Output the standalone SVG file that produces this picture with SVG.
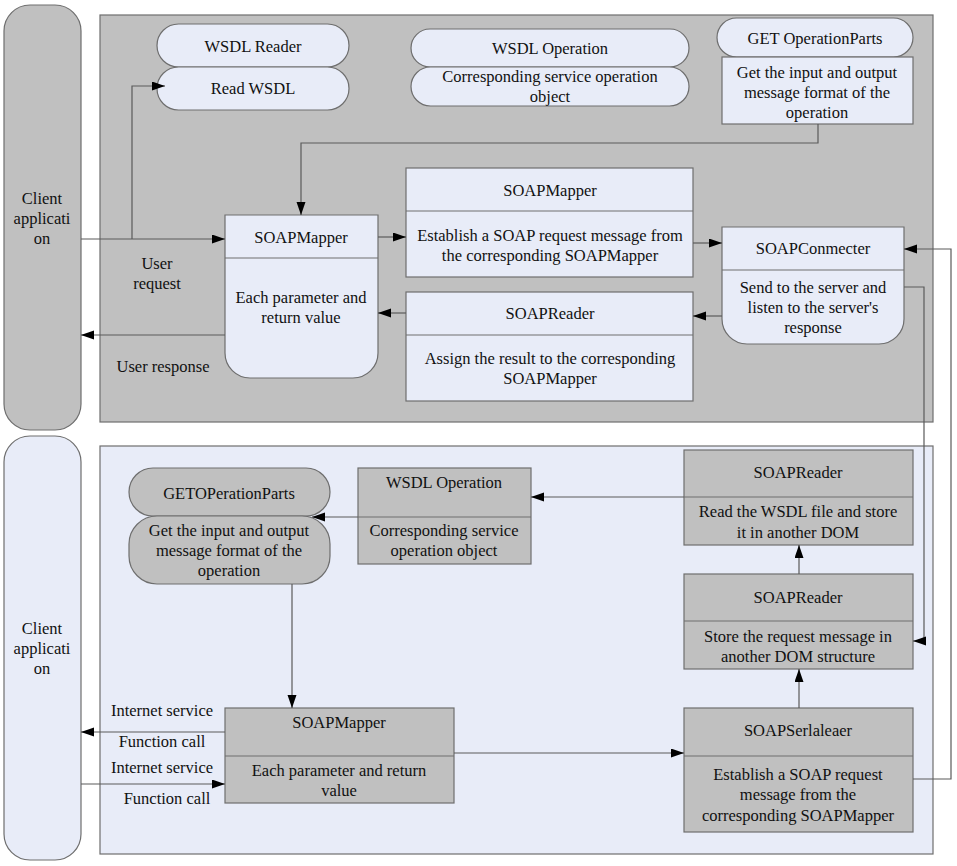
<svg xmlns="http://www.w3.org/2000/svg" width="957" height="866" viewBox="0 0 957 866">
<defs>
<style>
text{font-size:16.5px;fill:#111;text-anchor:middle}
.g{fill:#c0c0c0;stroke:#6e6e6e;stroke-width:1.2}
.l{fill:#e8ecf8;stroke:#6e6e6e;stroke-width:1.2}
.d{fill:none;stroke:#6e6e6e;stroke-width:1.2}
.c{fill:none;stroke:#5a5a5a;stroke-width:1.2;marker-end:url(#ah)}
</style>
<marker id="ah" markerUnits="userSpaceOnUse" markerWidth="14" markerHeight="10" refX="13" refY="4.5" orient="auto">
<path d="M0,0 L13,4.5 L0,9 z" fill="#000"/>
</marker>
</defs>
<rect width="957" height="866" fill="#fff"/>
<g font-family="Liberation Serif, Times New Roman, serif">

<g id="panel-top"><rect class="g" x="100" y="15" width="833" height="407"/></g>
<g id="panel-bottom"><rect class="l" x="100" y="446" width="833" height="408"/></g>

<g id="client-top">
<rect class="g" x="4" y="5" width="77" height="425" rx="26"/>
<text x="42" y="204">Client</text><text x="42" y="224">applicati</text><text x="42" y="244">on</text>
</g>
<g id="client-bottom">
<rect class="l" x="4" y="436" width="77" height="424" rx="26"/>
<text x="42" y="634">Client</text><text x="42" y="654">applicati</text><text x="42" y="674">on</text>
</g>

<g id="wsdl-reader">
<rect class="l" x="157" y="24" width="192" height="43" rx="21.5"/>
<rect class="l" x="157" y="67" width="192" height="43" rx="21.5"/>
<text x="253" y="52">WSDL Reader</text>
<text x="253" y="94">Read WSDL</text>
</g>

<g id="wsdl-operation-top">
<rect class="l" x="411" y="29" width="278" height="38" rx="19"/>
<rect class="l" x="411" y="67" width="278" height="39" rx="19.5"/>
<text x="550" y="54">WSDL Operation</text>
<text x="550" y="82">Corresponding service operation</text>
<text x="550" y="102">object</text>
</g>

<g id="get-operationparts-top">
<rect class="l" x="717" y="18" width="196" height="39" rx="19.5"/>
<rect class="l" x="722" y="57" width="191" height="67"/>
<text x="815" y="44">GET OperationParts</text>
<text x="817" y="78">Get the input and output</text>
<text x="817" y="98">message format of the</text>
<text x="817" y="118">operation</text>
</g>

<g id="soapmapper-top">
<path class="l" d="M225,215 H378 V353 A25,25 0 0 1 353,378 H250 A25,25 0 0 1 225,353 Z"/>
<path class="d" d="M225,258 H378"/>
<text x="301" y="243">SOAPMapper</text>
<text x="301" y="303">Each parameter and</text>
<text x="301" y="323">return value</text>
</g>

<g id="soapmapper-mid">
<rect class="l" x="406" y="168" width="287" height="109"/>
<path class="d" d="M406,211 H693"/>
<text x="550" y="196">SOAPMapper</text>
<text x="550" y="241">Establish a SOAP request message from</text>
<text x="550" y="261">the corresponding SOAPMapper</text>
</g>

<g id="soapreader-mid">
<rect class="l" x="406" y="292" width="287" height="109"/>
<path class="d" d="M406,335 H693"/>
<text x="550" y="319">SOAPReader</text>
<text x="550" y="364">Assign the result to the corresponding</text>
<text x="550" y="384">SOAPMapper</text>
</g>

<g id="soapconmecter">
<path class="l" d="M722,227 H904 V319 A25,25 0 0 1 879,344 H747 A25,25 0 0 1 722,319 Z"/>
<path class="d" d="M722,270 H904"/>
<text x="813" y="254">SOAPConmecter</text>
<text x="813" y="293">Send to the server and</text>
<text x="813" y="313">listen to the server's</text>
<text x="813" y="333">response</text>
</g>

<g id="getoperationparts-bottom">
<rect class="g" x="129" y="468" width="201" height="48" rx="24"/>
<rect class="g" x="129" y="516" width="201" height="68" rx="28"/>
<text x="229" y="499">GETOPerationParts</text>
<text x="229" y="536">Get the input and output</text>
<text x="229" y="556">message format of the</text>
<text x="229" y="576">operation</text>
</g>

<g id="wsdl-operation-bottom">
<rect class="g" x="358" y="468" width="173" height="96"/>
<path class="d" d="M358,517 H531"/>
<text x="444" y="488">WSDL Operation</text>
<text x="444" y="536">Corresponding service</text>
<text x="444" y="556">operation object</text>
</g>

<g id="soapreader-1">
<rect class="g" x="684" y="450" width="229" height="95"/>
<path class="d" d="M684,497 H913"/>
<text x="798" y="478">SOAPReader</text>
<text x="798" y="517">Read the WSDL file and store</text>
<text x="798" y="538">it in another DOM</text>
</g>

<g id="soapreader-2">
<rect class="g" x="684" y="574" width="229" height="95"/>
<path class="d" d="M684,621 H913"/>
<text x="798" y="603">SOAPReader</text>
<text x="798" y="642">Store the request message in</text>
<text x="798" y="662">another DOM structure</text>
</g>

<g id="soapserlaleaer">
<rect class="g" x="684" y="708" width="229" height="124"/>
<path class="d" d="M684,756 H913"/>
<text x="798" y="736">SOAPSerlaleaer</text>
<text x="798" y="780">Establish a SOAP request</text>
<text x="798" y="800">message from the</text>
<text x="798" y="821">corresponding SOAPMapper</text>
</g>

<g id="soapmapper-bottom">
<rect class="g" x="225" y="708" width="229" height="95"/>
<path class="d" d="M225,756 H454"/>
<text x="339" y="728">SOAPMapper</text>
<text x="339" y="776">Each parameter and return</text>
<text x="339" y="796">value</text>
</g>

<g id="connectors">
<path class="c" d="M81,239 H225"/>
<path class="c" d="M132,239 V86 H165"/>
<path class="c" d="M818,124 V143 H301 V215"/>
<path class="c" d="M378,237 H406"/>
<path class="c" d="M693,243 H722"/>
<path class="c" d="M722,316 H693"/>
<path class="c" d="M406,313 H378"/>
<path class="c" d="M225,335 H81"/>
<path class="c" d="M904,287 H924 V641 H913"/>
<path class="c" d="M913,779 H951 V249 H904"/>
<path class="c" d="M684,497 H531"/>
<path class="c" d="M358,517 H312"/>
<path class="c" d="M292,584 V708"/>
<path class="c" d="M454,753 H684"/>
<path class="c" d="M799,574 V545"/>
<path class="c" d="M799,708 V669"/>
<path class="c" d="M225,732 H81"/>
<path class="c" d="M81,784 H225"/>
</g>

<g id="labels">
<text x="157" y="269">User</text>
<text x="157" y="289">request</text>
<text x="163" y="372">User response</text>
<text x="162" y="716">Internet service</text>
<text x="162" y="747">Function call</text>
<text x="162" y="773">Internet service</text>
<text x="167" y="804">Function call</text>
</g>
</g>
</svg>
